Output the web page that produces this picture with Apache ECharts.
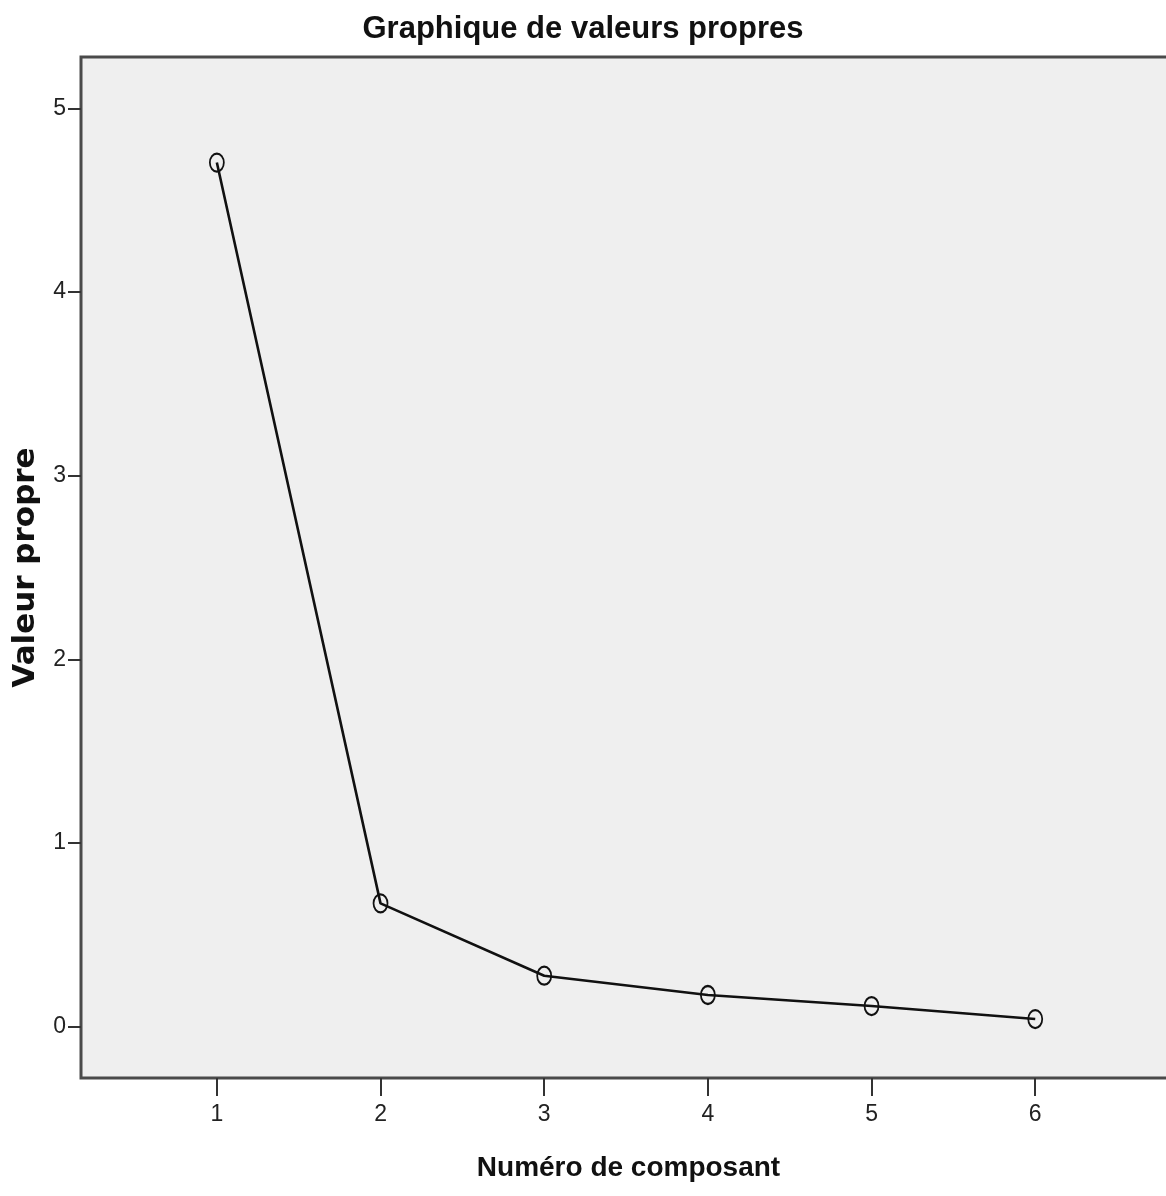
<!DOCTYPE html>
<html>
<head>
<meta charset="utf-8">
<style>
  html, body { margin: 0; padding: 0; background: #ffffff; }
  #chart { width: 1166px; height: 1196px; }
</style>
<script src="https://cdn.jsdelivr.net/npm/echarts@6/dist/echarts.min.js"></script>
</head>
<body>
<div id="chart"></div>
<script>
// Data
const components = [1, 2, 3, 4, 5, 6];
const eigenvalues = [4.705, 0.671, 0.277, 0.172, 0.112, 0.041];
const xTickValues = [1, 2, 3, 4, 5, 6];
const yTickValues = [0, 1, 2, 3, 4, 5];

const titleText = 'Graphique de valeurs propres';
const xName = 'Numéro de composant';
const yName = 'Valeur propre';

const chart = echarts.init(document.getElementById('chart'), null, { renderer: 'canvas' });

const sans = '"Liberation Sans", Arial, sans-serif';

const option = {
  backgroundColor: '#ffffff',
  animation: false,
  title: {
    text: titleText,
    left: 'center',
    top: 9,
    textStyle: {
      fontFamily: sans,
      fontWeight: 'bold',
      fontSize: 31,
      color: '#111111'
    }
  },
  grid: {
    left: 81,
    top: 57,
    width: 1095,
    height: 1021,
    outerBoundsMode: 'none',
    containLabel: false,
    show: true,
    backgroundColor: '#efefef',
    borderColor: '#4a4a4a',
    borderWidth: 3
  },
  xAxis: {
    type: 'value',
    min: 0.17,
    max: 6.86,
    name: xName,
    nameLocation: 'middle',
    nameGap: 76,
    nameTextStyle: {
      fontFamily: sans,
      fontWeight: 'bold',
      fontSize: 28,
      color: '#111111'
    },
    axisLine: { show: false, onZero: false },
    splitLine: { show: false },
    axisTick: {
      show: true,
      customValues: xTickValues,
      length: 18,
      lineStyle: { color: '#333333', width: 2 }
    },
    axisLabel: {
      customValues: xTickValues,
      margin: 25,
      fontFamily: sans,
      fontSize: 23,
      color: '#222222'
    }
  },
  yAxis: {
    type: 'value',
    min: -0.28,
    max: 5.28,
    name: yName,
    nameLocation: 'middle',
    nameRotate: 90,
    nameGap: 40,
    nameTextStyle: {
      fontFamily: '"DejaVu Sans", Verdana, sans-serif',
      fontWeight: 'bold',
      fontSize: 31,
      color: '#111111'
    },
    axisLine: { show: false, onZero: false },
    splitLine: { show: false },
    axisTick: {
      show: true,
      customValues: yTickValues,
      length: 13,
      lineStyle: { color: '#333333', width: 2 }
    },
    axisLabel: {
      customValues: yTickValues,
      margin: 15,
      fontFamily: sans,
      fontSize: 23,
      color: '#222222'
    }
  },
  series: [{
    type: 'line',
    data: components.map((c, i) => [c, eigenvalues[i]]),
    lineStyle: { color: '#111111', width: 2.6 },
    symbol: 'circle',
    symbolSize: [14, 18],
    itemStyle: {
      color: 'transparent',
      borderColor: '#111111',
      borderWidth: 2
    },
    z: 3
  }]
};

chart.setOption(option);
</script>
</body>
</html>
